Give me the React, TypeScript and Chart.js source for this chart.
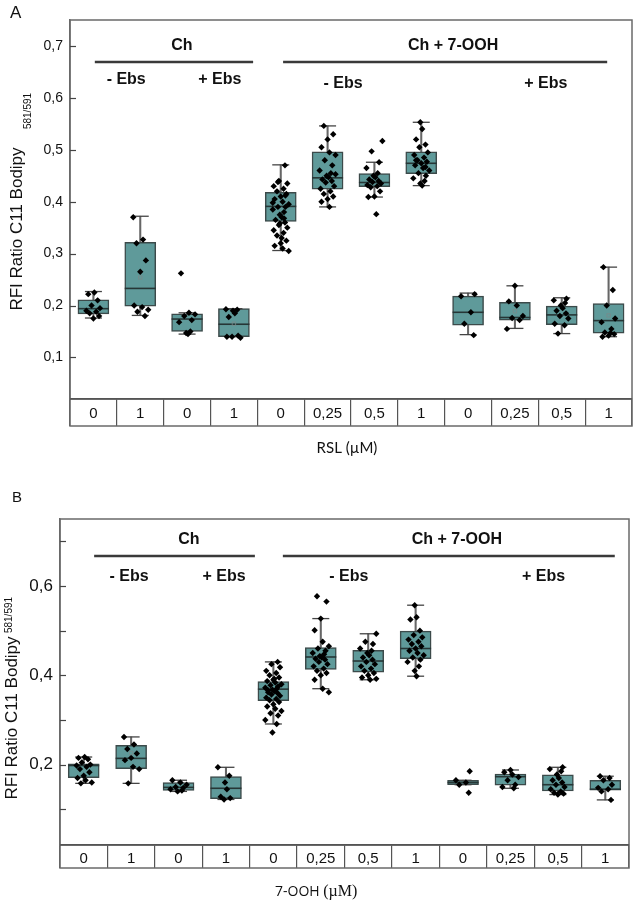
import React, { useEffect, useRef } from 'react';
import { Chart, registerables } from 'chart.js';

Chart.register(...registerables);

// ---------- shared ----------
const CATEGORIES = ['0', '1', '0', '1', '0', '0,25', '0,5', '1', '0', '0,25', '0,5', '1'];
const Y_TICKS = [0.1, 0.2, 0.3, 0.4, 0.5, 0.6, 0.7];
const B_Y_LABELED = [0.2, 0.4, 0.6];
const GROUP_LABELS = ['Ch', 'Ch + 7-OOH'];
const SUB_LABELS = ['- Ebs', '+ Ebs', '- Ebs', '+ Ebs'];
// horizontal jitter offsets (column units)
const JITTER = [0.02, -0.11, 0.09, -0.04, 0.14, -0.15, 0.06, -0.08, 0.12, 0.0, -0.13, 0.04, 0.17, -0.06, 0.1, -0.17, 0.07, -0.02];

// ---------- panel A (RSL) ----------
const A_Q1 = [0.184, 0.199, 0.150, 0.140, 0.362, 0.424, 0.429, 0.454, 0.162, 0.172, 0.163, 0.147];
const A_Q3 = [0.211, 0.322, 0.184, 0.194, 0.418, 0.496, 0.454, 0.496, 0.218, 0.206, 0.199, 0.204];
const A_MED = [0.194, 0.233, 0.174, 0.164, 0.391, 0.446, 0.437, 0.474, 0.187, 0.177, 0.182, 0.171];
const A_WLO = [0.176, 0.181, 0.145, 0.140, 0.306, 0.390, 0.409, 0.431, 0.144, 0.156, 0.146, 0.140];
const A_WHI = [0.227, 0.372, 0.186, 0.194, 0.471, 0.546, 0.476, 0.553, 0.224, 0.238, 0.215, 0.274];
const A_MEAN = [null, 0.254, null, 0.165, null, null, null, null, null, 0.189, null, 0.181];
const A_POINTS = [
  [0.225, 0.222, 0.21, 0.2, 0.195, 0.19, 0.188, 0.185, 0.18, 0.175],
  [0.37, 0.327, 0.32, 0.287, 0.265, 0.2, 0.197, 0.192, 0.188, 0.18],
  [0.262, 0.186, 0.183, 0.18, 0.172, 0.168, 0.15, 0.147, 0.145],
  [0.193, 0.192, 0.19, 0.185, 0.178, 0.142, 0.14, 0.138, 0.14],
  [0.47, 0.44, 0.435, 0.43, 0.425, 0.42, 0.415, 0.41, 0.405, 0.4, 0.395, 0.39, 0.39, 0.385, 0.38, 0.375, 0.37, 0.365, 0.36, 0.355, 0.35, 0.345, 0.34, 0.335, 0.325, 0.32, 0.315, 0.31, 0.305, 0.438, 0.412, 0.398, 0.368, 0.358, 0.33],
  [0.546, 0.53, 0.52, 0.505, 0.495, 0.49, 0.48, 0.47, 0.46, 0.455, 0.45, 0.447, 0.443, 0.44, 0.437, 0.43, 0.425, 0.42, 0.415, 0.41, 0.405, 0.4, 0.39, 0.453],
  [0.517, 0.497, 0.476, 0.465, 0.455, 0.45, 0.447, 0.443, 0.44, 0.438, 0.435, 0.432, 0.43, 0.428, 0.42, 0.41, 0.409, 0.376],
  [0.553, 0.54, 0.52, 0.51, 0.505, 0.495, 0.49, 0.485, 0.48, 0.477, 0.474, 0.47, 0.465, 0.46, 0.455, 0.45, 0.445, 0.44, 0.435, 0.431, 0.48, 0.467],
  [0.222, 0.218, 0.187, 0.165, 0.143],
  [0.238, 0.208, 0.2, 0.18, 0.176, 0.172, 0.155],
  [0.213, 0.21, 0.205, 0.2, 0.195, 0.19, 0.185, 0.18, 0.175, 0.165, 0.162, 0.146],
  [0.274, 0.23, 0.2, 0.175, 0.168, 0.155, 0.148, 0.145, 0.142, 0.14, 0.147],
];

// ---------- panel B (7-OOH) ----------
const B_Q1 = [0.171, 0.191, 0.142, 0.124, 0.343, 0.413, 0.407, 0.437, 0.155, 0.154, 0.141, 0.143];
const B_Q3 = [0.202, 0.243, 0.160, 0.173, 0.386, 0.462, 0.456, 0.499, 0.165, 0.179, 0.177, 0.165];
const B_MED = [0.198, 0.214, 0.149, 0.147, 0.369, 0.441, 0.432, 0.460, 0.160, 0.173, 0.155, 0.145];
const B_WLO = [0.158, 0.158, 0.140, 0.122, 0.291, 0.370, 0.390, 0.398, 0.155, 0.147, 0.133, 0.121];
const B_WHI = [0.217, 0.262, 0.165, 0.194, 0.430, 0.527, 0.493, 0.557, 0.165, 0.188, 0.194, 0.174];
const B_MEAN = [null, 0.226, null, null, null, null, null, null, null, null, null, null];
const B_POINTS = [
  [0.217, 0.215, 0.212, 0.205, 0.2, 0.198, 0.195, 0.19, 0.183, 0.175, 0.17, 0.165, 0.16, 0.158],
  [0.262, 0.245, 0.235, 0.225, 0.215, 0.21, 0.195, 0.19, 0.158],
  [0.165, 0.16, 0.155, 0.15, 0.148, 0.145, 0.142, 0.14],
  [0.194, 0.175, 0.16, 0.145, 0.128, 0.125, 0.122],
  [0.43, 0.425, 0.418, 0.41, 0.405, 0.4, 0.395, 0.39, 0.387, 0.384, 0.38, 0.378, 0.375, 0.372, 0.37, 0.368, 0.365, 0.362, 0.36, 0.357, 0.354, 0.35, 0.347, 0.344, 0.34, 0.335, 0.33, 0.325, 0.32, 0.315, 0.31, 0.3, 0.291, 0.272, 0.392, 0.366],
  [0.577, 0.565, 0.527, 0.501, 0.475, 0.465, 0.46, 0.455, 0.45, 0.447, 0.443, 0.44, 0.437, 0.435, 0.43, 0.425, 0.42, 0.415, 0.41, 0.405, 0.4, 0.39, 0.37, 0.362],
  [0.493, 0.475, 0.47, 0.46, 0.455, 0.45, 0.445, 0.44, 0.435, 0.43, 0.425, 0.42, 0.415, 0.41, 0.405, 0.4, 0.395, 0.39, 0.392],
  [0.557, 0.53, 0.525, 0.5, 0.49, 0.485, 0.48, 0.475, 0.47, 0.465, 0.46, 0.455, 0.45, 0.445, 0.44, 0.435, 0.43, 0.42, 0.41, 0.398],
  [0.185, 0.165, 0.16, 0.155, 0.137],
  [0.188, 0.183, 0.178, 0.172, 0.165, 0.155, 0.15, 0.147],
  [0.194, 0.19, 0.185, 0.178, 0.17, 0.165, 0.16, 0.155, 0.15, 0.145, 0.14, 0.137, 0.135, 0.133],
  [0.174, 0.17, 0.165, 0.155, 0.148, 0.145, 0.14, 0.121],
];

const SANS = '"Liberation Sans", Arial, sans-serif';
const BOX_FILL = '#5f9a9a';

type PanelCfg = {
  letter: string;
  height: number;
  pad: { top: number; right: number; left: number; bottom: number };
  yAxisW: number;
  xAxisH: number;
  tableH: number;
  catPad: number;
  yFont: number;
  yLabeled: number[] | null;
  q1: number[]; q3: number[]; med: number[]; wlo: number[]; whi: number[];
  mean: (number | null)[]; points: number[][];
  letterPos: [number, number, number];
  yTitle: { x: number; y: number; supX: number; supY: number };
  xTitle: (ctx: CanvasRenderingContext2D) => void;
  ann: {
    groupX: number[]; lines: [number, number][]; subX: number[];
    groupDy: number; lineDy: number; subDy: number[];
  };
};

function makeDecor(cfg: PanelCfg) {
  return {
    id: 'decor',
    afterDraw(chart: any) {
      const { ctx, chartArea: ca, scales } = chart;
      const xs = scales.x;
      const ys = scales.y;
      ctx.save();
      // frame around plot + table
      ctx.strokeStyle = '#6a6a6a';
      ctx.lineWidth = 1.5;
      ctx.strokeRect(ca.left, ca.top, ca.right - ca.left, ca.bottom - ca.top + cfg.tableH);
      ctx.strokeStyle = '#555';
      ctx.beginPath();
      ctx.moveTo(ca.left, ca.bottom);
      ctx.lineTo(ca.right, ca.bottom);
      ctx.stroke();
      // inner y tick marks
      ctx.lineWidth = 1.2;
      ctx.strokeStyle = '#444';
      ys.ticks.forEach((t: any) => {
        const py = Math.round(ys.getPixelForValue(t.value)) + 0.5;
        ctx.beginPath();
        ctx.moveTo(ca.left, py);
        ctx.lineTo(ca.left + 6, py);
        ctx.stroke();
      });
      // group annotations
      ctx.fillStyle = '#111';
      ctx.font = `bold 16px ${SANS}`;
      ctx.textAlign = 'center';
      ctx.textBaseline = 'middle';
      GROUP_LABELS.forEach((t, i) => {
        ctx.fillText(t, xs.getPixelForValue(cfg.ann.groupX[i]), ca.top + cfg.ann.groupDy);
      });
      SUB_LABELS.forEach((t, i) => {
        ctx.fillText(t, xs.getPixelForValue(cfg.ann.subX[i]), ca.top + cfg.ann.subDy[i]);
      });
      ctx.strokeStyle = '#3a3a3a';
      ctx.lineWidth = 2.5;
      cfg.ann.lines.forEach(([a, b]) => {
        ctx.beginPath();
        ctx.moveTo(xs.getPixelForValue(a), ca.top + cfg.ann.lineDy);
        ctx.lineTo(xs.getPixelForValue(b), ca.top + cfg.ann.lineDy);
        ctx.stroke();
      });
      // panel letter
      ctx.font = `${cfg.letterPos[2]}px ${SANS}`;
      ctx.textAlign = 'left';
      ctx.textBaseline = 'alphabetic';
      ctx.fillText(cfg.letter, cfg.letterPos[0], cfg.letterPos[1]);
      // y title
      ctx.textAlign = 'center';
      ctx.textBaseline = 'middle';
      ctx.save();
      ctx.translate(cfg.yTitle.x, cfg.yTitle.y);
      ctx.rotate(-Math.PI / 2);
      ctx.font = `17px ${SANS}`;
      ctx.fillText('RFI Ratio C11 Bodipy', 0, 0);
      ctx.restore();
      ctx.save();
      ctx.translate(cfg.yTitle.supX, cfg.yTitle.supY);
      ctx.rotate(-Math.PI / 2);
      ctx.font = `10px ${SANS}`;
      ctx.fillText('581/591', 0, 0);
      ctx.restore();
      // x title
      cfg.xTitle(ctx);
      ctx.restore();
    },
  };
}

function buildConfig(cfg: PanelCfg): any {
  const pts: { x: number; y: number }[] = [];
  cfg.points.forEach((grp, i) => {
    grp.forEach((v, k) => pts.push({ x: i + JITTER[(k + i * 5) % JITTER.length], y: v }));
  });
  const means: { x: number; y: number }[] = [];
  cfg.mean.forEach((v, i) => { if (v !== null) means.push({ x: i, y: v }); });
  const caps: { x: number; y: number }[] = [];
  cfg.wlo.forEach((v, i) => { caps.push({ x: i, y: v }); caps.push({ x: i, y: cfg.whi[i] }); });

  return {
    type: 'bar',
    data: {
      datasets: [
        { type: 'scatter', label: 'means', data: means, pointStyle: 'rect', pointRadius: 2.4, backgroundColor: 'rgba(0,0,0,0)', borderColor: '#7a8a8a', borderWidth: 0.8, order: 0 },
        { type: 'scatter', label: 'points', data: pts, pointStyle: 'rectRot', pointRadius: 3.2, backgroundColor: '#000', borderColor: '#000', borderWidth: 0, order: 1 },
        { type: 'scatter', label: 'medians', data: cfg.med.map((v, i) => ({ x: i, y: v })), pointStyle: 'line', pointRadius: 15.5, borderColor: '#263636', borderWidth: 1.6, order: 2 },
        { type: 'scatter', label: 'caps', data: caps, pointStyle: 'line', pointRadius: 8.5, borderColor: '#444', borderWidth: 1.3, order: 3 },
        { type: 'bar', label: 'boxes', data: cfg.q1.map((v, i) => ({ x: i, y: [v, cfg.q3[i]] })), barThickness: 31, grouped: false, backgroundColor: BOX_FILL, borderColor: '#3c4a4a', borderWidth: 1.5, borderSkipped: false, order: 4 },
        { type: 'bar', label: 'whiskers', data: cfg.wlo.map((v, i) => ({ x: i, y: [v, cfg.whi[i]] })), barThickness: 1.4, grouped: false, backgroundColor: '#666', borderWidth: 0, order: 5 },
      ],
    },
    options: {
      responsive: false,
      animation: false,
      devicePixelRatio: 1,
      events: [],
      layout: { padding: cfg.pad, autoPadding: false },
      plugins: { legend: { display: false }, tooltip: { enabled: false } },
      scales: {
        x: { type: 'linear', min: -0.5, max: 11.5, offset: false, display: false },
        xt: {
          type: 'category',
          labels: CATEGORIES,
          position: 'bottom',
          offset: true,
          grid: { offset: true, drawOnChartArea: false, drawTicks: true, tickLength: cfg.tableH, color: '#555', lineWidth: 1.2 },
          border: { display: true, color: '#555', width: 1.5 },
          ticks: { padding: cfg.catPad, color: '#111', font: { family: SANS, size: 15 }, maxRotation: 0, autoSkip: false },
          afterFit: (s: any) => { s.height = cfg.xAxisH; },
        },
        y: {
          type: 'linear',
          min: 0.02,
          max: 0.75,
          afterBuildTicks: (s: any) => { s.ticks = Y_TICKS.map((v) => ({ value: v })); },
          grid: { display: true, drawOnChartArea: false, drawTicks: false },
          border: { display: true, color: '#6a6a6a', width: 1.5 },
          ticks: {
            padding: 7,
            color: '#111',
            font: { family: SANS, size: cfg.yFont },
            callback: (v: any) => {
              const n = Number(v);
              if (cfg.yLabeled && !cfg.yLabeled.some((l) => Math.abs(l - n) < 1e-6)) return '';
              return n.toFixed(1).replace('.', ',');
            },
          },
          afterFit: (s: any) => { s.width = cfg.yAxisW; },
        },
      },
    },
    plugins: [makeDecor(cfg)],
  };
}

const PANEL_A: PanelCfg = {
  letter: 'A',
  height: 460,
  pad: { top: 20, right: 2, left: 0, bottom: 0 },
  yAxisW: 70,
  xAxisH: 61,
  tableH: 27,
  catPad: -21,
  yFont: 14,
  yLabeled: null,
  q1: A_Q1, q3: A_Q3, med: A_MED, wlo: A_WLO, whi: A_WHI, mean: A_MEAN, points: A_POINTS,
  letterPos: [10, 18, 17],
  yTitle: { x: 17, y: 229, supX: 28, supY: 111 },
  xTitle: (ctx) => {
    ctx.font = '15px Lato, "Open Sans", sans-serif';
    ctx.textAlign = 'center';
    ctx.textBaseline = 'middle';
    ctx.fillStyle = '#111';
    ctx.fillText('RSL (µM)', 347, 448);
  },
  ann: {
    groupX: [1.89, 7.68],
    lines: [[0.03, 3.41], [4.05, 10.97]],
    subX: [0.7, 2.7, 5.33, 9.66],
    groupDy: 26, lineDy: 42, subDy: [60, 60, 64, 64],
  },
};

const PANEL_B: PanelCfg = {
  letter: 'B',
  height: 440,
  pad: { top: 59, right: 5, left: 0, bottom: 0 },
  yAxisW: 60,
  xAxisH: 55,
  tableH: 23,
  catPad: -18,
  yFont: 17,
  yLabeled: B_Y_LABELED,
  q1: B_Q1, q3: B_Q3, med: B_MED, wlo: B_WLO, whi: B_WHI, mean: B_MEAN, points: B_POINTS,
  letterPos: [12, 42, 15],
  yTitle: { x: 12, y: 258, supX: 9, supY: 155 },
  xTitle: (ctx) => {
    ctx.textAlign = 'left';
    ctx.textBaseline = 'middle';
    ctx.fillStyle = '#111';
    ctx.font = '14px "Open Sans", Lato, sans-serif';
    const t1 = '7-OOH ';
    ctx.fillText(t1, 275, 432);
    const w = ctx.measureText(t1).width;
    ctx.font = '16px "Liberation Serif", "DejaVu Serif", serif';
    ctx.fillText('(µM)', 275 + w, 432);
  },
  ann: {
    groupX: [2.22, 7.87],
    lines: [[0.22, 3.61], [4.2, 11.2]],
    subX: [0.955, 2.96, 5.59, 9.7],
    groupDy: 21, lineDy: 37, subDy: [58, 58, 58, 58],
  },
};

function Panel({ cfg, top }: { cfg: PanelCfg; top: number }) {
  const ref = useRef<HTMLCanvasElement>(null);
  useEffect(() => {
    if (!ref.current) return;
    const chart = new Chart(ref.current, buildConfig(cfg));
    return () => chart.destroy();
  }, [cfg]);
  return (
    <canvas
      ref={ref}
      width={634}
      height={cfg.height}
      style={{ position: 'absolute', left: 0, top, width: 634, height: cfg.height, display: 'block' }}
    />
  );
}

export default function App() {
  return (
    <div style={{ position: 'absolute', left: 0, top: 0, width: 634, height: 900, background: '#fff' }}>
      <Panel cfg={PANEL_A} top={0} />
      <Panel cfg={PANEL_B} top={460} />
    </div>
  );
}
